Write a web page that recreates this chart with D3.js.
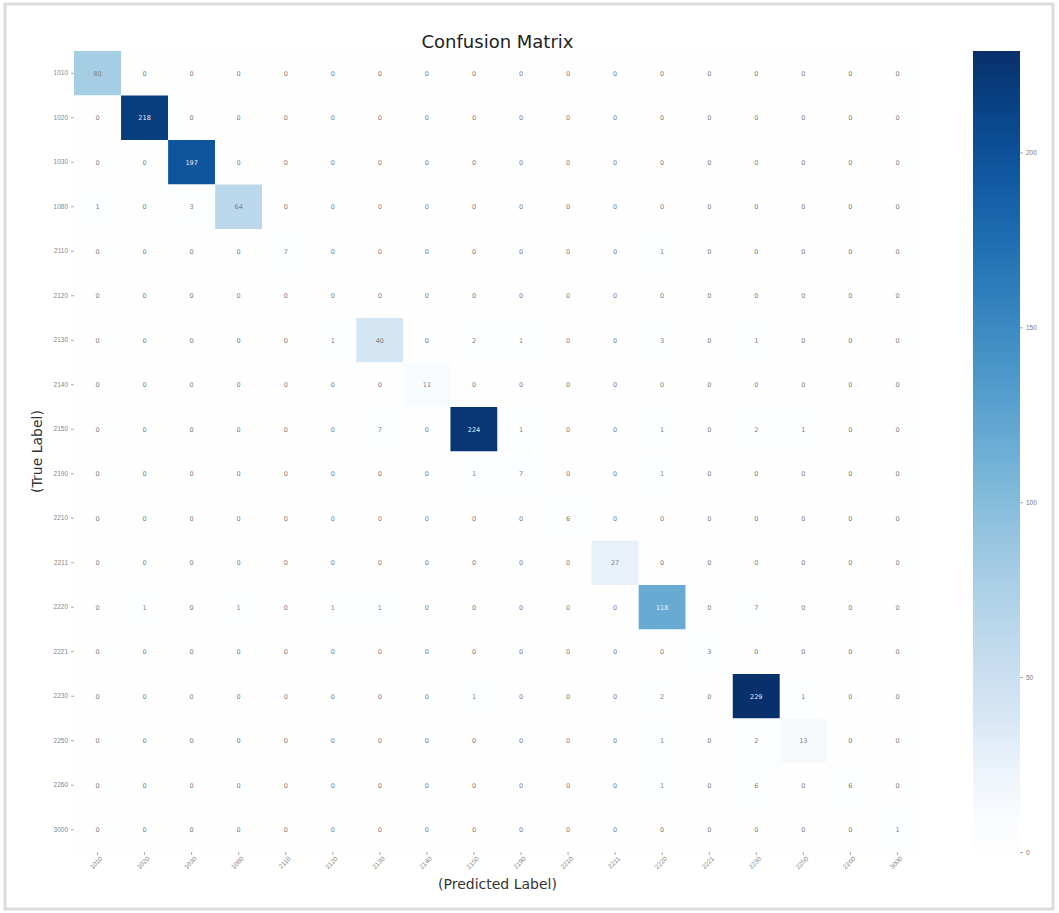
<!DOCTYPE html>
<html>
<head>
<meta charset="utf-8">
<script src="https://cdn.jsdelivr.net/npm/d3@7"></script>
<style>
  body { margin: 0; background: #fff; }
  svg { font-family: "DejaVu Sans", sans-serif; }
</style>
</head>
<body>
<svg id="chart" width="1059" height="913"></svg>
<script>
// class codes, same order on both axes
const labels = ['1010', '1020', '1030', '1080', '2110', '2120', '2130', '2140', '2150',
    '2190', '2210', '2211', '2220', '2221', '2230', '2250', '2260', '3000'];

// counts, one array per true label (row)
const row1010 = [80, 0, 0, 0, 0, 0, 0, 0, 0, 0, 0, 0, 0, 0, 0, 0, 0, 0];
const row1020 = [0, 218, 0, 0, 0, 0, 0, 0, 0, 0, 0, 0, 0, 0, 0, 0, 0, 0];
const row1030 = [0, 0, 197, 0, 0, 0, 0, 0, 0, 0, 0, 0, 0, 0, 0, 0, 0, 0];
const row1080 = [1, 0, 3, 64, 0, 0, 0, 0, 0, 0, 0, 0, 0, 0, 0, 0, 0, 0];
const row2110 = [0, 0, 0, 0, 7, 0, 0, 0, 0, 0, 0, 0, 1, 0, 0, 0, 0, 0];
const row2120 = [0, 0, 0, 0, 0, 0, 0, 0, 0, 0, 0, 0, 0, 0, 0, 0, 0, 0];
const row2130 = [0, 0, 0, 0, 0, 1, 40, 0, 2, 1, 0, 0, 3, 0, 1, 0, 0, 0];
const row2140 = [0, 0, 0, 0, 0, 0, 0, 11, 0, 0, 0, 0, 0, 0, 0, 0, 0, 0];
const row2150 = [0, 0, 0, 0, 0, 0, 7, 0, 224, 1, 0, 0, 1, 0, 2, 1, 0, 0];
const row2190 = [0, 0, 0, 0, 0, 0, 0, 0, 1, 7, 0, 0, 1, 0, 0, 0, 0, 0];
const row2210 = [0, 0, 0, 0, 0, 0, 0, 0, 0, 0, 6, 0, 0, 0, 0, 0, 0, 0];
const row2211 = [0, 0, 0, 0, 0, 0, 0, 0, 0, 0, 0, 27, 0, 0, 0, 0, 0, 0];
const row2220 = [0, 1, 0, 1, 0, 1, 1, 0, 0, 0, 0, 0, 118, 0, 7, 0, 0, 0];
const row2221 = [0, 0, 0, 0, 0, 0, 0, 0, 0, 0, 0, 0, 0, 3, 0, 0, 0, 0];
const row2230 = [0, 0, 0, 0, 0, 0, 0, 0, 1, 0, 0, 0, 2, 0, 229, 1, 0, 0];
const row2250 = [0, 0, 0, 0, 0, 0, 0, 0, 0, 0, 0, 0, 1, 0, 2, 13, 0, 0];
const row2260 = [0, 0, 0, 0, 0, 0, 0, 0, 0, 0, 0, 0, 1, 0, 6, 0, 6, 0];
const row3000 = [0, 0, 0, 0, 0, 0, 0, 0, 0, 0, 0, 0, 0, 0, 0, 0, 0, 1];

const matrix = [row1010, row1020, row1030, row1080, row2110, row2120, row2130, row2140, row2150,
    row2190, row2210, row2211, row2220, row2221, row2230, row2250, row2260, row3000];

const colorTicks = [0, 50, 100, 150, 200];

const svg = d3.select('#chart');
const plot = { left: 74, top: 51, right: 921, bottom: 852 };

// light frame round the figure
svg.append('rect')
    .attr('x', 5).attr('y', 4)
    .attr('width', 1048).attr('height', 905)
    .attr('fill', 'none')
    .attr('stroke', '#dcdcdc')
    .attr('stroke-width', 3);

const x = d3.scaleBand().domain(labels).range([plot.left, plot.right]);
const y = d3.scaleBand().domain(labels).range([plot.top, plot.bottom]);
const vmax = d3.max(matrix.flat());
// Blues, but fading to plain white at the very bottom like the picture
const blues = (t) => d3.interpolateRgb('#ffffff', d3.interpolateBlues(t))(Math.min(1, 0.15 + t * 5));
const color = d3.scaleSequential(blues).domain([0, vmax]);

const cells = [];
matrix.forEach((row, i) => row.forEach((v, j) => {
    cells.push({ t: labels[i], p: labels[j], v });
}));

svg.append('g').selectAll('rect')
    .data(cells)
    .join('rect')
    .attr('x', (d) => x(d.p))
    .attr('y', (d) => y(d.t))
    .attr('width', x.bandwidth())
    .attr('height', y.bandwidth())
    .attr('fill', (d) => color(d.v));

svg.append('g').selectAll('text')
    .data(cells)
    .join('text')
    .attr('x', (d) => x(d.p) + x.bandwidth() / 2)
    .attr('y', (d) => y(d.t) + y.bandwidth() / 2)
    .attr('text-anchor', 'middle')
    .attr('dy', '0.35em')
    .attr('font-size', 6.5)
    .attr('fill', (d) => (d.v > vmax * 0.5 ? '#eef' : '#808080'))
    .text((d) => d.v);

// axes
const yAxis = svg.append('g')
    .attr('transform', `translate(${plot.left},0)`)
    .call(d3.axisLeft(y).tickSize(3).tickPadding(3));
const xAxis = svg.append('g')
    .attr('transform', `translate(0,${plot.bottom})`)
    .call(d3.axisBottom(x).tickSize(3).tickPadding(2));
[xAxis, yAxis].forEach((ax) => {
    ax.select('.domain').remove();
    ax.selectAll('line').attr('stroke', '#aaa');
    ax.selectAll('text').attr('fill', '#888').attr('font-size', 6.5);
});
xAxis.selectAll('text')
    .attr('text-anchor', 'end')
    .attr('dx', '-0.2em')
    .attr('dy', '0.6em')
    .attr('transform', 'rotate(-45)');

svg.append('text')
    .attr('x', (plot.left + plot.right) / 2)
    .attr('y', 48)
    .attr('text-anchor', 'middle')
    .attr('font-size', 18)
    .attr('fill', '#222')
    .text('Confusion Matrix');

svg.append('text')
    .attr('x', (plot.left + plot.right) / 2)
    .attr('y', 889)
    .attr('text-anchor', 'middle')
    .attr('font-size', 14)
    .attr('fill', '#333')
    .text('(Predicted Label)');

svg.append('text')
    .attr('transform', `translate(42,${(plot.top + plot.bottom) / 2}) rotate(-90)`)
    .attr('text-anchor', 'middle')
    .attr('font-size', 14)
    .attr('fill', '#333')
    .text('(True Label)');

// colour bar
const cbX = 973;
const cbW = 47;
const cb = d3.scaleLinear().domain([0, vmax]).range([plot.bottom, plot.top]);
const defs = svg.append('defs');
const grad = defs.append('linearGradient')
    .attr('id', 'cbgrad')
    .attr('x1', 0).attr('y1', 1)
    .attr('x2', 0).attr('y2', 0);
d3.range(0, 1.0001, 0.05).forEach((t) => {
    grad.append('stop')
        .attr('offset', t)
        .attr('stop-color', color(t * vmax));
});
svg.append('rect')
    .attr('x', cbX)
    .attr('y', plot.top)
    .attr('width', cbW)
    .attr('height', plot.bottom - plot.top)
    .attr('fill', 'url(#cbgrad)');

const cbAxis = svg.append('g')
    .attr('transform', `translate(${cbX + cbW},0)`)
    .call(d3.axisRight(cb).tickValues(colorTicks).tickSize(3).tickPadding(3));
cbAxis.select('.domain').remove();
cbAxis.selectAll('line').attr('stroke', '#aaa');
cbAxis.selectAll('text').attr('fill', '#777').attr('font-size', 6.5);
</script>
</body>
</html>
